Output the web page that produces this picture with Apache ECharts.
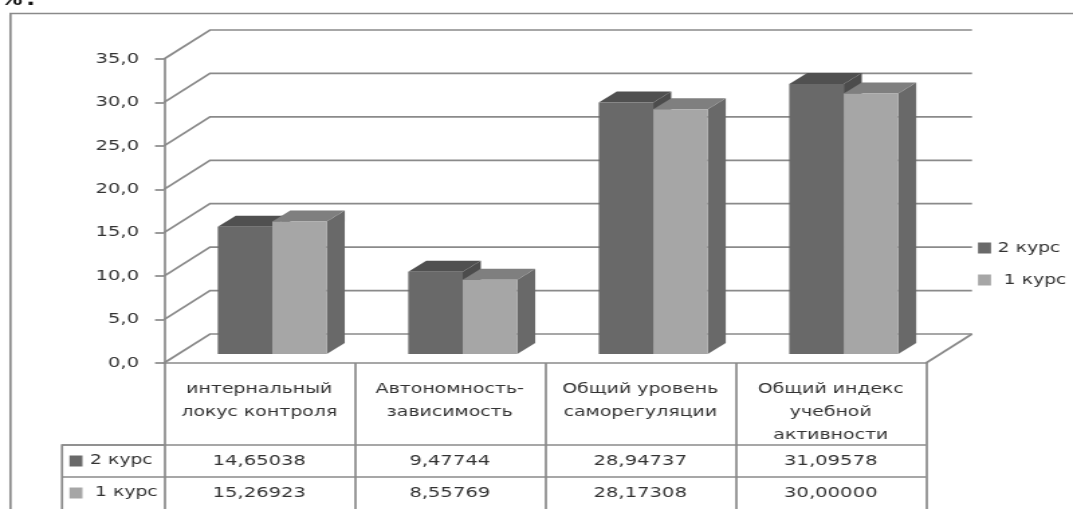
<!DOCTYPE html>
<html><head><meta charset="utf-8">
<style>html,body{margin:0;padding:0;background:#fff;overflow:hidden}#c{width:800px;height:509px;transform:scaleX(1.34125);transform-origin:0 0}</style>
<script src="https://cdn.jsdelivr.net/npm/echarts@6/dist/echarts.min.js"></script>
</head><body><div id="c"></div>
<script>
const categories = ['интернальный\nлокус контроля','Автономность-\nзависимость','Общий уровень\nсаморегуляции','Общий индекс\nучебной\nактивности'];
const seriesNames = ['2 курс','1 курс'];
const course2 = [14.65038, 9.47744, 28.94737, 31.09578];
const course1 = [15.26923, 8.55769, 28.17308, 30.00000];
const yTicks = [0,5,10,15,20,25,30,35];
const frontColors = ['#696969','#a6a6a6'];
const topColors = ['#505050','#7f7f7f'];
const sideColors = ['#4c4c4c','#696969'];
const S = 1073/800;
const X = px => px/S;
const LINE = '#8a8a8a', TXT = '#333333', FONT = '"DejaVu Sans"', LW = 1.7;
const DX = X(46), DY = -29, BDX = X(18), BDY = -11, BW = X(54.5), BOFF = X(13), BASE = -9;
const ROWS = [445, 477, 509], COLX = X(164), HEADX = X(62), RIGHTX = X(926);

const chart = echarts.init(document.getElementById('c'));
function fmt(v){return v.toFixed(5).replace('.',',');}

function barRender(idx){
  return function(p, api){
    const cat = api.value(0), v = api.value(1);
    const c = api.coord([cat, v]), c0 = api.coord([cat, 0]);
    const x0 = c0[0] + BOFF + (idx-1)*BW, x1 = x0 + BW;
    const yb = c0[1] + BASE, yt = c[1] + BASE;
    const poly = (pts, fill)=>({type:'polygon',shape:{points:pts},style:{fill:fill,stroke:null}});
    return {type:'group',children:[
      poly([[x1,yb],[x1+BDX,yb+BDY],[x1+BDX,yt+BDY],[x1,yt]], sideColors[idx]),
      poly([[x0,yt],[x0+BDX,yt+BDY],[x1+BDX,yt+BDY],[x1,yt]], topColors[idx]),
      poly([[x0,yb],[x1,yb],[x1,yt],[x0,yt]], frontColors[idx])
    ]};
  };
}
function wallRender(p, api){
  const v = api.value(0);
  const a = api.coord([0, v]);
  const cs = p.coordSys;
  const xl = cs.x, xr = cs.x + cs.width, y = a[1];
  const children = [
    {type:'polyline',shape:{points:[[xl,y],[xl+DX,y+DY],[xr+DX,y+DY]]},style:{stroke:LINE,lineWidth:LW,fill:null}}
  ];
  if (v === 0) children.push({type:'line',shape:{x1:xr,y1:y,x2:xr+DX,y2:y+DY},style:{stroke:LINE,lineWidth:LW}});
  return {type:'group',children};
}
function rowRender(values, r){
  return function(p, api){
    const i = api.value(0);
    const c = api.coord([i, 0]);
    return {type:'text',style:{text:fmt(values[i]),x:c[0],y:(ROWS[r]+ROWS[r+1])/2,align:'center',verticalAlign:'middle',font:'14.6px '+FONT,fill:TXT}};
  };
}
const idx4 = categories.map((_,i)=>i);
chart.setOption({
  animation:false,
  backgroundColor:'#fff',
  grid:{left:COLX,width:RIGHTX-COLX,top:59,height:304,containLabel:false},
  legend:{orient:'vertical',left:X(978),top:241,padding:0,itemWidth:X(13),itemHeight:11,itemGap:18,
    icon:'rect',data:seriesNames,formatter:n=>n===seriesNames[1]?' '+n:n,
    textStyle:{fontFamily:FONT,fontSize:14,color:TXT}},
  xAxis:{type:'category',data:categories,
    axisLine:{show:true,lineStyle:{color:LINE,width:LW}},
    axisTick:{show:true,length:146,lineStyle:{color:LINE,width:LW}},
    axisLabel:{interval:0,margin:15,lineHeight:23,fontFamily:FONT,fontSize:14.1,color:TXT,verticalAlign:'top'}},
  yAxis:{type:'value',min:0,max:35,interval:5,
    axisLine:{show:true,lineStyle:{color:LINE,width:LW}},
    axisTick:{show:true,length:X(9),lineStyle:{color:LINE,width:LW}},
    splitLine:{show:false},
    axisLabel:{margin:X(25),fontFamily:FONT,fontSize:14.5,color:TXT,formatter:v=>v.toFixed(1).replace('.',',')}},
  graphic:[
    {type:'text',silent:true,x:X(4),y:10,style:{text:'%.',verticalAlign:'bottom',font:'bold 22px "Liberation Mono"',fill:'#111'}},
    {type:'polyline',silent:true,shape:{points:[[X(10.5),509],[X(10.5),13.5],[800,13.5]]},style:{stroke:LINE,lineWidth:LW,fill:null}},
    {type:'polyline',silent:true,shape:{points:[[COLX,ROWS[0]],[HEADX,ROWS[0]],[HEADX,509]]},style:{stroke:LINE,lineWidth:LW,fill:null}},
    {type:'line',silent:true,shape:{x1:HEADX,y1:ROWS[0],x2:RIGHTX,y2:ROWS[0]},style:{stroke:LINE,lineWidth:LW}},
    {type:'line',silent:true,shape:{x1:HEADX,y1:ROWS[1],x2:RIGHTX,y2:ROWS[1]},style:{stroke:LINE,lineWidth:LW}},
    ...[0,1].map(r=>({type:'rect',silent:true,shape:{x:X(69.5),y:(ROWS[r]+ROWS[r+1])/2-5.5,width:X(13),height:11},style:{fill:frontColors[r]}})),
    ...[0,1].map(r=>({type:'text',silent:true,x:X(r?95:90),y:(ROWS[r]+ROWS[r+1])/2-1,style:{text:seriesNames[r],verticalAlign:'middle',font:'14px '+FONT,fill:TXT}}))
  ],
  series:[
    {type:'custom',name:'walls',z:1,silent:true,data:yTicks.map(v=>[v]),encode:{y:0},renderItem:wallRender,clip:false},
    {type:'custom',name:seriesNames[0],z:2,itemStyle:{color:frontColors[0]},data:idx4.map(i=>[i,course2[i]]),renderItem:barRender(0),clip:false},
    {type:'custom',name:seriesNames[1],z:3,itemStyle:{color:frontColors[1]},data:idx4.map(i=>[i,course1[i]]),renderItem:barRender(1),clip:false},
    {type:'custom',name:'row2',z:4,silent:true,data:idx4.map(i=>[i]),encode:{x:0},renderItem:rowRender(course2,0),clip:false},
    {type:'custom',name:'row1',z:4,silent:true,data:idx4.map(i=>[i]),encode:{x:0},renderItem:rowRender(course1,1),clip:false}
  ]
});
</script></body></html>
